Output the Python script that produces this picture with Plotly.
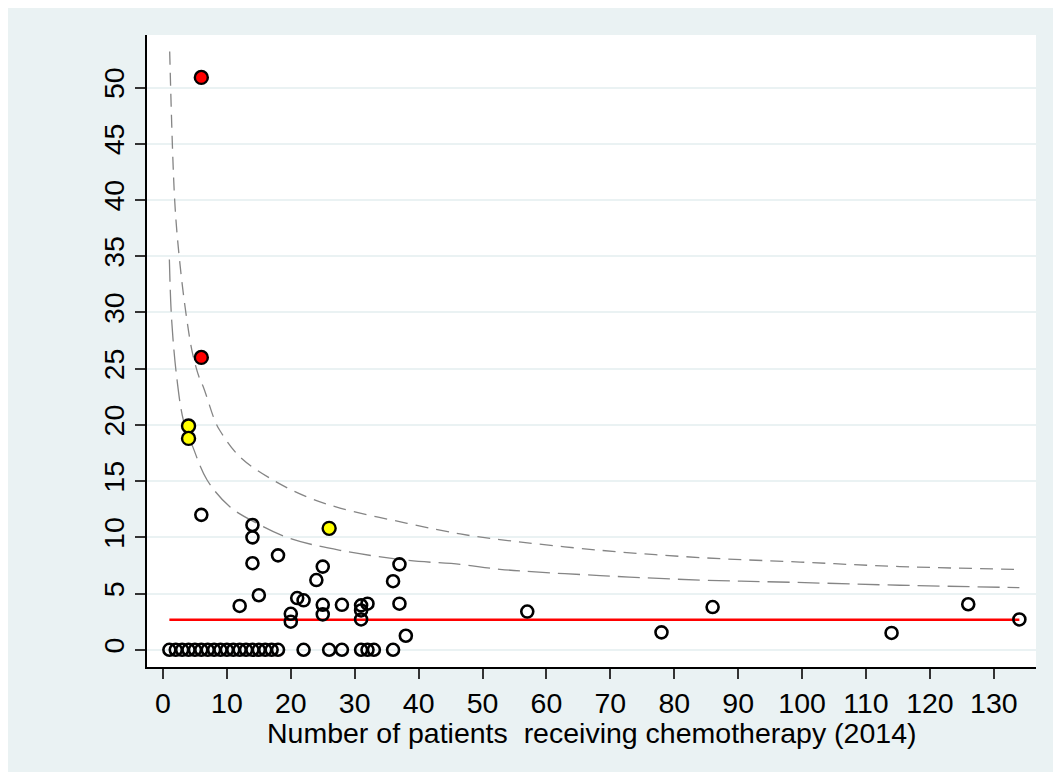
import plotly.graph_objects as go

# ---- data ----
# hospitals (open circles): number of patients vs rate
open_n = [1, 2, 3, 4, 5, 6, 7, 8, 9, 10, 11, 12, 13, 14, 15, 16, 17, 18,
          22, 26, 28, 31, 32, 33, 36,
          6, 14, 14, 14, 18, 12, 15, 20, 20, 21, 22, 24, 25, 25, 25,
          28, 31, 31, 31, 32, 36, 37, 37, 38, 57, 78, 86, 114, 126, 134]
open_rate = [0, 0, 0, 0, 0, 0, 0, 0, 0, 0, 0, 0, 0, 0, 0, 0, 0, 0,
             0, 0, 0, 0, 0, 0, 0,
             12.0, 11.1, 10.0, 7.7, 8.4, 3.9, 4.85, 3.2, 2.5, 4.6, 4.4, 6.2, 7.4, 4.0, 3.15,
             4.0, 3.95, 3.5, 2.7, 4.1, 6.1, 7.6, 4.1, 1.25, 3.4, 1.55, 3.8, 1.5, 4.05, 2.7]

# outliers beyond the outer limit (red) and the inner limit (yellow)
red_n = [6, 6]
red_rate = [50.9, 26.0]
yellow_n = [4, 4, 26]
yellow_rate = [19.9, 18.8, 10.8]

# overall mean (red line)
mean_n = [1, 134]
mean_rate = [2.67, 2.67]

# control limits
outer_n = [1.05, 1.83, 2.55, 3.6, 4.65, 5.8, 6.3, 8.1, 8.9, 12.05, 17.2, 22.5,
           27.7, 38.2, 46.5, 52.7, 68.4, 84.0, 99.7, 115.3, 134]
outer_rate = [53.2, 40.0, 34.9, 29.9, 26.3, 24.0, 23.4, 20.4, 19.5, 17.15, 15.1, 13.6,
              12.6, 11.25, 10.3, 9.8, 8.85, 8.2, 7.8, 7.4, 7.15]
inner_n = [1.0, 1.36, 2.2, 3.2, 4.7, 6.9, 10.5, 14.7, 19.9, 27.7, 38.2, 46.5,
           52.7, 68.4, 84.0, 98.6, 115.3, 134]
inner_rate = [34.7, 29.3, 24.0, 20.4, 18.0, 15.1, 12.7, 11.25, 9.9, 8.85, 7.96, 7.6,
              7.16, 6.6, 6.2, 6.0, 5.74, 5.53]

x_ticks = list(range(0, 131, 10))
y_ticks = list(range(0, 51, 5))
x_title = "Number of patients\u00a0\u00a0receiving chemotherapy (2014)"

BG = "#EAF2F3"
FONT = "Liberation Sans, Arial, sans-serif"
FS = 28.5

fig = go.Figure()
fig.add_trace(go.Scatter(x=outer_n, y=outer_rate, mode="lines",
                         line=dict(color="#858585", width=1.3, dash="13px,8px", shape="spline"),
                         hoverinfo="skip", showlegend=False))
fig.add_trace(go.Scatter(x=inner_n, y=inner_rate, mode="lines",
                         line=dict(color="#858585", width=1.3, dash="22px,8px", shape="spline"),
                         hoverinfo="skip", showlegend=False))
fig.add_trace(go.Scatter(x=mean_n, y=mean_rate, mode="lines",
                         line=dict(color="#FF0000", width=2.5), showlegend=False))
fig.add_trace(go.Scatter(x=open_n, y=open_rate, mode="markers",
                         marker=dict(symbol="circle-open", size=12, color="black",
                                     line=dict(width=2.6, color="black")),
                         showlegend=False))
fig.add_trace(go.Scatter(x=yellow_n, y=yellow_rate, mode="markers",
                         marker=dict(symbol="circle", size=13, color="#FFFF00",
                                     line=dict(width=2.4, color="black")),
                         showlegend=False))
fig.add_trace(go.Scatter(x=red_n, y=red_rate, mode="markers",
                         marker=dict(symbol="circle", size=13, color="#FF0000",
                                     line=dict(width=2.4, color="black")),
                         showlegend=False))

PLOT_H = 632
fig.update_layout(
    width=1045, height=764,
    margin=dict(l=139, r=17, t=27, b=105),
    paper_bgcolor=BG, plot_bgcolor="white",
    font=dict(family=FONT, size=FS, color="black"),
    annotations=[dict(text=x_title, xref="paper", yref="paper", x=0.5,
                      y=-66 / PLOT_H, xanchor="center", yanchor="middle",
                      showarrow=False, font=dict(size=FS))],
)
fig.update_xaxes(
    range=[-2.5, 136.6], tickmode="array", tickvals=x_ticks,
    ticks="outside", ticklen=10, tickwidth=1.5, tickcolor="#333333",
    showline=True, linecolor="black", linewidth=1.5,
    showgrid=False, zeroline=False,
    tickfont=dict(size=FS),
)
fig.update_yaxes(
    range=[-1.53, 54.67], tickmode="array", tickvals=y_ticks,
    ticks="outside", ticklen=10, tickwidth=1.5, tickcolor="#333333",
    showline=True, linecolor="black", linewidth=1.5,
    showgrid=True, gridcolor=BG, gridwidth=2, zeroline=False,
    tickangle=-90, tickfont=dict(size=FS),
)

fig.write_html("out.html",
               post_script="document.body.style.margin='8px 0 0 8px';"
                           "document.documentElement.style.overflow='hidden';"
                           "document.body.style.overflow='hidden';")
